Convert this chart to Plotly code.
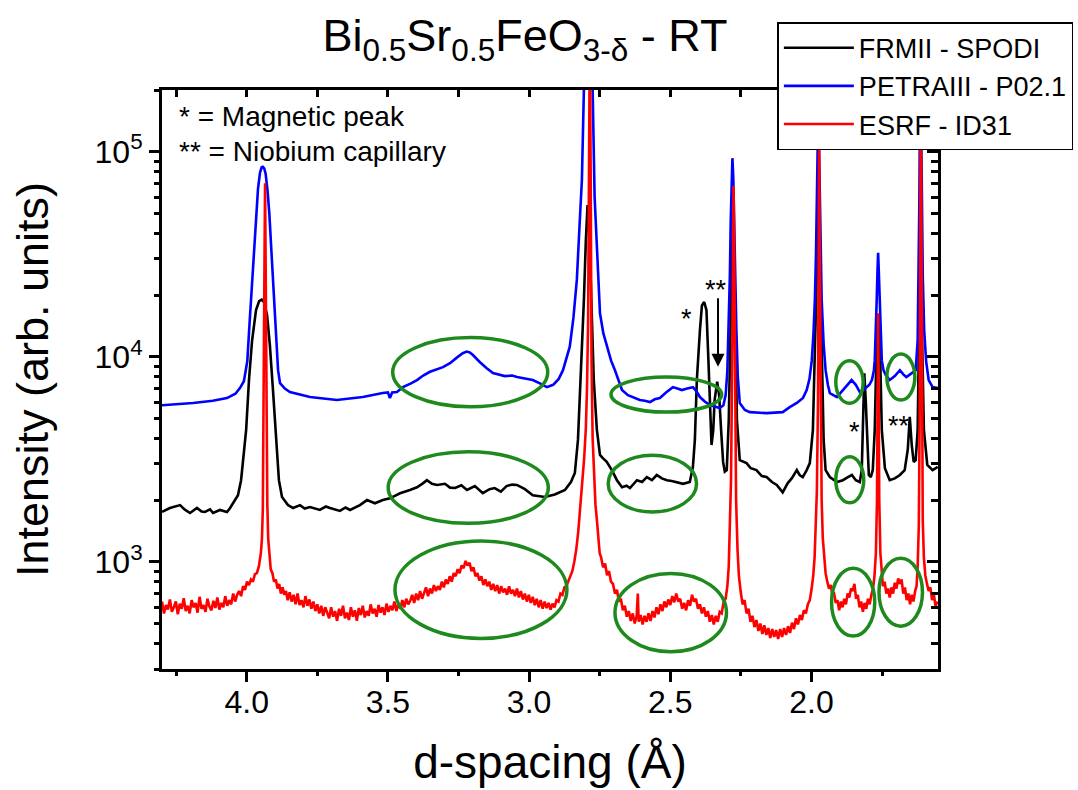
import math
import plotly.graph_objects as go

# ---------------- data (d-spacing in Å, intensity in arb. units) ----------------
petra_points = [
    (4.300, 5800), (4.250, 5850), (4.190, 5950), (4.120, 6100), (4.070, 6290), (4.040, 6600),
    (4.024, 7030), (4.010, 7600), (3.998, 9500), (3.990, 14500), (3.981, 23700), (3.974, 35000),
    (3.967, 50000), (3.960, 66000), (3.953, 79000), (3.947, 84000), (3.943, 84500), (3.938, 83000),
    (3.933, 78000), (3.926, 64000), (3.920, 50000), (3.914, 35000), (3.908, 23700), (3.901, 15500),
    (3.894, 11200), (3.889, 8600), (3.882, 7440), (3.865, 7000), (3.847, 6730), (3.776, 6360),
    (3.681, 6150), (3.589, 6360), (3.518, 6650), (3.500, 6700), (3.493, 6290), (3.485, 6700),
    (3.468, 6730), (3.447, 7110), (3.420, 7400), (3.397, 7700), (3.375, 8100), (3.351, 8450),
    (3.305, 8900), (3.280, 9300), (3.256, 9900), (3.235, 10400), (3.221, 10600), (3.210, 10500),
    (3.199, 10200), (3.174, 9400), (3.150, 8800), (3.128, 8320), (3.086, 8050), (3.060, 8100),
    (3.043, 7960), (3.010, 7800), (2.987, 7700), (2.960, 7400), (2.937, 7110), (2.915, 7300),
    (2.895, 7800), (2.880, 8600), (2.868, 9800), (2.856, 11200), (2.843, 15500), (2.831, 23700),
    (2.822, 42000), (2.813, 73000), (2.806, 200000), (2.798, 450000), (2.790, 600000),
    (2.782, 450000), (2.775, 200000), (2.768, 60000), (2.760, 34000), (2.749, 16300),
    (2.737, 13000), (2.725, 11200), (2.710, 9600), (2.696, 8600), (2.683, 7600), (2.671, 6880),
    (2.650, 6500), (2.633, 6360), (2.608, 6150), (2.590, 6100), (2.572, 6010), (2.555, 6200),
    (2.537, 6290), (2.515, 6700), (2.491, 7110), (2.475, 7000), (2.459, 6880), (2.440, 7000),
    (2.420, 7110), (2.408, 6800), (2.395, 6360), (2.378, 6050), (2.360, 5810), (2.340, 5700),
    (2.325, 5620), (2.312, 5800), (2.304, 6500), (2.298, 8500), (2.293, 13500), (2.289, 25000),
    (2.286, 46000), (2.283, 75000), (2.280, 93000), (2.277, 75000), (2.273, 46000),
    (2.270, 25000), (2.266, 13500), (2.261, 8000), (2.254, 5950), (2.236, 5500), (2.218, 5370),
    (2.183, 5310), (2.158, 5310), (2.130, 5340), (2.102, 5370), (2.077, 5680), (2.052, 5950),
    (2.030, 6300), (2.017, 6880), (2.007, 7800), (1.999, 9600), (1.993, 13000), (1.988, 19000),
    (1.984, 32000), (1.981, 58000), (1.978, 120000), (1.976, 160000), (1.974, 120000),
    (1.971, 58000), (1.967, 32000), (1.964, 19000), (1.957, 11500), (1.950, 8600), (1.942, 7300),
    (1.935, 6650), (1.910, 6360), (1.889, 6880), (1.870, 7400), (1.858, 7700), (1.843, 7300),
    (1.829, 6730), (1.815, 6900), (1.805, 7110), (1.795, 7300), (1.786, 7700), (1.779, 8600),
    (1.776, 9600), (1.772, 13000), (1.769, 19000), (1.766, 27000), (1.764, 32100),
    (1.762, 27000), (1.758, 19000), (1.755, 13000), (1.751, 9600), (1.745, 8600), (1.737, 8150),
    (1.723, 7700), (1.705, 8050), (1.687, 8600), (1.675, 8200), (1.664, 7960), (1.645, 8320),
    (1.631, 8600), (1.624, 12000), (1.620, 30000), (1.618, 58000), (1.616, 150000),
    (1.614, 300000), (1.612, 150000), (1.609, 58000), (1.606, 25000), (1.601, 13500),
    (1.594, 9500), (1.585, 7700), (1.571, 7110), (1.553, 7030),
]

frm_points = [
    (4.300, 1750), (4.272, 1830), (4.236, 1890), (4.220, 1800), (4.201, 1730), (4.176, 1830),
    (4.160, 1760), (4.148, 1750), (4.130, 1800), (4.119, 1730), (4.095, 1790), (4.070, 1750),
    (4.060, 1820), (4.049, 1930), (4.031, 2110), (4.020, 2500), (4.013, 3030), (4.002, 4400),
    (3.992, 7700), (3.981, 12000), (3.967, 16900), (3.956, 18700), (3.947, 19000),
    (3.939, 18500), (3.928, 16000), (3.918, 11400), (3.907, 6880), (3.896, 3930), (3.886, 2500),
    (3.875, 2070), (3.854, 1890), (3.836, 1830), (3.811, 1890), (3.795, 1820), (3.776, 1850),
    (3.741, 1790), (3.720, 1860), (3.705, 1830), (3.670, 1770), (3.650, 1840), (3.634, 1790),
    (3.599, 1890), (3.574, 2000), (3.546, 1930), (3.518, 2000), (3.493, 2040), (3.457, 2160),
    (3.422, 2240), (3.397, 2310), (3.375, 2420), (3.362, 2500), (3.344, 2400), (3.326, 2370),
    (3.298, 2400), (3.280, 2300), (3.262, 2290), (3.240, 2360), (3.220, 2240), (3.192, 2340),
    (3.164, 2160), (3.140, 2260), (3.122, 2290), (3.100, 2200), (3.080, 2340), (3.060, 2380),
    (3.043, 2370), (3.015, 2260), (2.987, 2110), (2.944, 2070), (2.909, 2130), (2.873, 2240),
    (2.852, 2450), (2.838, 2710), (2.827, 3930), (2.817, 7700), (2.806, 18900), (2.799, 37000),
    (2.793, 55000), (2.786, 37000), (2.779, 18900), (2.771, 7700), (2.760, 4400), (2.749, 3320),
    (2.739, 3200), (2.725, 3070), (2.707, 2800), (2.689, 2500), (2.671, 2310), (2.655, 2350),
    (2.643, 2290), (2.618, 2500), (2.600, 2450), (2.583, 2590), (2.565, 2500), (2.548, 2650),
    (2.530, 2550), (2.512, 2500), (2.495, 2480), (2.477, 2450), (2.455, 2400), (2.431, 2450),
    (2.420, 2900), (2.413, 3930), (2.406, 7700), (2.395, 13500), (2.388, 17800), (2.380, 18500),
    (2.372, 16900), (2.365, 9600), (2.360, 5500), (2.354, 3710), (2.348, 4370), (2.343, 6150),
    (2.334, 7550), (2.327, 6500), (2.320, 4370), (2.313, 3070), (2.307, 2750), (2.300, 2800),
    (2.293, 4900), (2.286, 18900), (2.279, 45000), (2.271, 18900), (2.264, 4900), (2.254, 3130),
    (2.230, 3030), (2.215, 2860), (2.195, 2800), (2.176, 2620), (2.159, 2590), (2.140, 2450),
    (2.123, 2370), (2.102, 2180), (2.084, 2420), (2.070, 2550), (2.052, 2800), (2.042, 2650),
    (2.031, 2590), (2.017, 2800), (2.006, 3030), (1.995, 4400), (1.988, 10700), (1.981, 33000),
    (1.976, 50000), (1.971, 33000), (1.964, 10700), (1.957, 3930), (1.950, 2800), (1.935, 2590),
    (1.910, 2450), (1.889, 2500), (1.871, 2590), (1.857, 2650), (1.843, 2500), (1.829, 2450),
    (1.822, 2800), (1.818, 4900), (1.813, 8300), (1.808, 6150), (1.802, 3530), (1.797, 2650),
    (1.790, 2590), (1.783, 2800), (1.776, 4400), (1.769, 12000), (1.764, 16000), (1.758, 12000),
    (1.751, 4400), (1.740, 2860), (1.723, 2500), (1.705, 2550), (1.687, 2650), (1.670, 2800),
    (1.659, 3530), (1.652, 5090), (1.645, 3710), (1.638, 3070), (1.631, 3130), (1.624, 4400),
    (1.619, 13500), (1.614, 50000), (1.609, 13500), (1.602, 4400), (1.590, 2970), (1.571, 2800),
    (1.553, 2900),
]

esrf_points = [
    (4.300, 640), (4.293, 560), (4.286, 615), (4.279, 585), (4.272, 655), (4.265, 570),
    (4.258, 600), (4.251, 640), (4.244, 555), (4.237, 625), (4.230, 590), (4.223, 665),
    (4.216, 575), (4.209, 610), (4.202, 560), (4.195, 650), (4.188, 600), (4.181, 630),
    (4.174, 565), (4.167, 675), (4.160, 590), (4.153, 615), (4.146, 570), (4.139, 660),
    (4.132, 605), (4.125, 580), (4.118, 645), (4.111, 595), (4.104, 670), (4.097, 585),
    (4.090, 630), (4.083, 600), (4.076, 680), (4.069, 610), (4.062, 650), (4.055, 620),
    (4.048, 700), (4.041, 640), (4.034, 690), (4.027, 720), (4.020, 680), (4.013, 760),
    (4.006, 730), (3.999, 800), (3.992, 770), (3.985, 820), (3.978, 800), (3.971, 870),
    (3.964, 880), (3.957, 950), (3.950, 1100), (3.946, 1300), (3.943, 1800), (3.940, 5000),
    (3.937, 30000), (3.935, 70200), (3.933, 30000), (3.930, 5000), (3.927, 1900), (3.924, 1300),
    (3.920, 1050), (3.915, 920), (3.909, 880), (3.903, 800), (3.897, 820), (3.891, 740),
    (3.885, 780), (3.879, 700), (3.873, 750), (3.867, 690), (3.861, 720),
    (3.855, 650), (3.848, 710), (3.841, 640), (3.834, 690), (3.827, 620), (3.820, 700),
    (3.813, 615), (3.806, 650), (3.799, 600), (3.792, 680), (3.785, 610), (3.778, 655),
    (3.771, 590), (3.764, 640), (3.757, 575), (3.750, 620), (3.743, 560), (3.736, 610),
    (3.729, 545), (3.722, 600), (3.715, 560), (3.708, 530), (3.701, 600), (3.694, 540),
    (3.687, 575), (3.680, 515), (3.673, 590), (3.666, 545), (3.659, 610), (3.652, 530),
    (3.645, 565), (3.638, 520), (3.631, 600), (3.624, 540), (3.617, 580), (3.610, 515),
    (3.603, 595), (3.596, 550), (3.589, 610), (3.582, 535), (3.575, 575), (3.568, 545),
    (3.561, 620), (3.554, 560), (3.547, 590), (3.540, 540), (3.533, 615), (3.526, 565),
    (3.519, 600), (3.512, 550), (3.505, 625),
    (3.498, 570), (3.491, 610), (3.484, 580), (3.477, 640), (3.470, 575), (3.463, 625),
    (3.456, 590), (3.449, 650), (3.442, 600), (3.435, 660), (3.428, 620), (3.421, 645),
    (3.414, 690), (3.407, 630), (3.400, 700), (3.393, 650), (3.386, 720), (3.379, 660),
    (3.372, 700), (3.365, 750), (3.358, 680), (3.351, 740), (3.344, 700), (3.337, 770),
    (3.330, 720), (3.323, 760), (3.316, 730), (3.309, 800), (3.302, 750), (3.295, 820),
    (3.288, 780), (3.281, 850), (3.274, 800), (3.267, 880), (3.260, 850), (3.253, 920),
    (3.246, 880), (3.239, 960), (3.232, 930), (3.225, 1010), (3.218, 960), (3.211, 990),
    (3.204, 900), (3.197, 940), (3.190, 850), (3.183, 880), (3.176, 810), (3.169, 850),
    (3.162, 770), (3.155, 820), (3.148, 760), (3.141, 800), (3.134, 730), (3.127, 780),
    (3.120, 720), (3.113, 770), (3.106, 700), (3.099, 760), (3.092, 710), (3.085, 740),
    (3.078, 690), (3.071, 760), (3.064, 700), (3.057, 730), (3.050, 680), (3.043, 740),
    (3.036, 670), (3.029, 720), (3.022, 655), (3.015, 700), (3.008, 640), (3.001, 690),
    (2.994, 630), (2.987, 675), (2.980, 615), (2.973, 660), (2.966, 600), (2.959, 650),
    (2.952, 590), (2.945, 640), (2.938, 595), (2.931, 630), (2.924, 585), (2.917, 625),
    (2.910, 600),
    (2.903, 650), (2.896, 640), (2.889, 700), (2.882, 690), (2.875, 750), (2.868, 760),
    (2.861, 800), (2.854, 850), (2.847, 900), (2.840, 1000), (2.833, 1150), (2.826, 1400),
    (2.819, 1800), (2.812, 2300), (2.805, 3200), (2.799, 4500), (2.795, 7000), (2.791, 15000),
    (2.788, 80000), (2.785, 400000), (2.782, 80000), (2.779, 10000), (2.775, 4000),
    (2.770, 2600), (2.765, 1900), (2.760, 1600), (2.755, 1300), (2.750, 1100),
    (2.745, 1050), (2.738, 940), (2.731, 980), (2.724, 860), (2.717, 900), (2.710, 800),
    (2.703, 780), (2.696, 700), (2.689, 730), (2.682, 640), (2.675, 660), (2.668, 580),
    (2.661, 610), (2.654, 540), (2.647, 575), (2.640, 515), (2.633, 560), (2.626, 500),
    (2.619, 545), (2.615, 700), (2.612, 510), (2.605, 550), (2.598, 495), (2.591, 545),
    (2.584, 510), (2.577, 560), (2.570, 515), (2.563, 575), (2.556, 535), (2.549, 600),
    (2.542, 555), (2.535, 620), (2.528, 575), (2.521, 640), (2.514, 600), (2.507, 655),
    (2.500, 615), (2.493, 680), (2.486, 635), (2.479, 700), (2.472, 640), (2.465, 660),
    (2.458, 590), (2.451, 630), (2.444, 580), (2.437, 650), (2.430, 610), (2.423, 690),
    (2.416, 640), (2.409, 660), (2.402, 590), (2.395, 620), (2.388, 560), (2.381, 600),
    (2.374, 540), (2.367, 575), (2.360, 510), (2.353, 550), (2.346, 495), (2.339, 545),
    (2.332, 510), (2.325, 570), (2.318, 560), (2.311, 640), (2.304, 660),
    (2.298, 760), (2.293, 950), (2.289, 1400), (2.285, 2500), (2.281, 9000), (2.278, 40000),
    (2.276, 68000), (2.274, 40000), (2.271, 8000), (2.267, 2000), (2.262, 1150), (2.257, 850),
    (2.251, 720), (2.244, 620), (2.237, 650), (2.230, 560), (2.223, 590), (2.216, 510),
    (2.209, 545), (2.202, 480), (2.195, 520), (2.188, 460), (2.181, 500), (2.174, 445),
    (2.167, 490), (2.160, 440), (2.153, 475), (2.146, 425), (2.139, 470), (2.132, 430),
    (2.125, 465), (2.118, 420), (2.111, 470), (2.104, 430), (2.097, 475), (2.090, 440),
    (2.083, 485), (2.076, 450), (2.069, 505), (2.062, 470), (2.055, 530), (2.048, 495),
    (2.041, 550), (2.034, 520), (2.027, 580), (2.020, 560), (2.013, 620),
    (2.006, 650), (2.000, 730), (1.994, 850), (1.989, 1050), (1.985, 1400), (1.981, 2200),
    (1.977, 6000), (1.975, 40000), (1.973, 106000), (1.971, 40000), (1.968, 6000),
    (1.964, 2000), (1.960, 1300), (1.955, 1000), (1.950, 880),
    (1.944, 800), (1.938, 740), (1.932, 770), (1.926, 690), (1.920, 700), (1.914, 630),
    (1.908, 650), (1.902, 580), (1.896, 640), (1.890, 600), (1.884, 660), (1.878, 620),
    (1.872, 700), (1.866, 670), (1.860, 740), (1.854, 720), (1.848, 780), (1.842, 660),
    (1.836, 690), (1.830, 600), (1.824, 640), (1.818, 570), (1.812, 630), (1.806, 590),
    (1.800, 660), (1.794, 620), (1.788, 690), (1.782, 740),
    (1.777, 850), (1.772, 1100), (1.768, 2000), (1.766, 6000), (1.764, 16300), (1.762, 6000),
    (1.760, 2000), (1.756, 1100), (1.752, 880),
    (1.747, 760), (1.741, 800), (1.735, 700), (1.729, 740), (1.723, 670), (1.717, 750),
    (1.711, 700), (1.705, 790), (1.699, 740), (1.693, 830), (1.687, 780), (1.681, 820),
    (1.675, 700), (1.669, 750), (1.663, 650), (1.657, 700), (1.651, 620), (1.645, 690),
    (1.639, 640), (1.633, 720), (1.628, 760),
    (1.624, 950), (1.620, 1500), (1.617, 5000), (1.615, 60000), (1.613, 300000),
    (1.611, 60000), (1.609, 5000), (1.606, 1600), (1.602, 1050), (1.597, 860),
    (1.591, 780), (1.585, 720), (1.579, 750), (1.573, 650), (1.567, 700), (1.561, 610),
    (1.553, 640),
]

series_names = ["FRMII - SPODI", "PETRAIII - P02.1", "ESRF - ID31"]

# highlighted regions (green ellipses): d from, d to, intensity low, intensity high
highlight_regions = [
    (3.483, 2.934, 5700, 12400),
    (3.499, 2.932, 1540, 3440),
    (3.475, 2.866, 423, 1262),
    (2.710, 2.318, 5370, 7960),
    (2.720, 2.407, 1750, 3310),
    (2.696, 2.301, 364, 878),
    (1.914, 1.817, 5930, 9550),
    (1.733, 1.634, 6150, 10300),
    (1.914, 1.815, 1940, 3250),
    (1.929, 1.776, 434, 929),
    (1.761, 1.607, 485, 1040),
]

# peak markers: text, d, intensity
peak_marks = [
    ("*", 2.443, 15300),
    ("**", 2.337, 21100),
    ("*", 1.847, 4300),
    ("**", 1.691, 4620),
]
arrow_mark = (2.331, 19600, 8930)  # d, tail intensity, head intensity

x_range = [4.30, 1.552]
y_range = [300, 2.0e5]

FONT = "Arial, Liberation Sans, sans-serif"

fig = go.Figure()


def unzip(points):
    return [p[0] for p in points], [p[1] for p in points]


d_f, i_f = unzip(frm_points)
d_p, i_p = unzip(petra_points)
d_e, i_e = unzip(esrf_points)

fig.add_trace(go.Scatter(x=d_f, y=i_f, mode="lines", name=series_names[0],
                         line=dict(color="#000000", width=2.6)))
fig.add_trace(go.Scatter(x=d_p, y=i_p, mode="lines", name=series_names[1],
                         line=dict(color="#0000ff", width=2.6)))
fig.add_trace(go.Scatter(x=d_e, y=i_e, mode="lines", name=series_names[2],
                         line=dict(color="#ff0000", width=2.6)))

# invisible helper traces so that the mirrored frame axes (top, right, bottom ticks) get drawn
for xa, ya in (("x2", "y2"), ("x3", "y")):
    fig.add_trace(go.Scatter(x=x_range, y=y_range, xaxis=xa, yaxis=ya, mode="markers",
                             marker=dict(opacity=0), showlegend=False, hoverinfo="skip"))

for (xa, xb, ya, yb) in highlight_regions:
    fig.add_shape(type="circle", xref="x", yref="y", x0=xa, x1=xb, y0=ya, y1=yb,
                  line=dict(color="#1e8a1e", width=3.5), fillcolor="rgba(0,0,0,0)",
                  layer="above")

for (txt, dx, iy) in peak_marks:
    fig.add_annotation(x=dx, y=math.log10(iy), xref="x", yref="y", text=txt,
                       showarrow=False, font=dict(family=FONT, size=27, color="black"))

fig.add_annotation(x=arrow_mark[0], y=math.log10(arrow_mark[2]), xref="x", yref="y",
                   ax=arrow_mark[0], ay=math.log10(arrow_mark[1]), axref="x", ayref="y",
                   text="", showarrow=True, arrowhead=2, arrowsize=1.3, arrowwidth=2,
                   arrowcolor="black", standoff=0, startstandoff=0)

fig.add_annotation(x=0.019, y=0.955, xref="paper", yref="paper", text="* = Magnetic peak",
                   showarrow=False, xanchor="left", yanchor="middle",
                   font=dict(family=FONT, size=28, color="black"))
fig.add_annotation(x=0.019, y=0.893, xref="paper", yref="paper", text="** = Niobium capillary",
                   showarrow=False, xanchor="left", yanchor="middle",
                   font=dict(family=FONT, size=28, color="black"))

minor_y = [m * 10 ** e for e in range(2, 6) for m in range(2, 10)]
major_y = [1e3, 1e4, 1e5]
major_y_text = ["10<sup>3</sup>", "10<sup>4</sup>", "10<sup>5</sup>"]

ly = [math.log10(y_range[0]), math.log10(y_range[1])]

fig.update_layout(
    width=1078, height=790,
    margin=dict(l=162, r=140, t=90, b=121, autoexpand=False),
    paper_bgcolor="white", plot_bgcolor="white",
    font=dict(family=FONT, color="black"),
    title=dict(text="Bi<sub>0.5</sub>Sr<sub>0.5</sub>FeO<sub>3-δ</sub> - RT",
               x=0.487, xanchor="center", xref="container",
               y=0.955, yanchor="middle", yref="container",
               font=dict(family=FONT, size=45, color="black")),
    showlegend=True,
    legend=dict(x=0.793, y=1.117, xanchor="left", yanchor="top",
                bgcolor="white", bordercolor="black", borderwidth=1.5,
                font=dict(family=FONT, size=27, color="black"),
                itemwidth=70, tracegroupgap=0),
    # main bottom axis: carries the tick labels (short invisible ticks keep labels close)
    xaxis=dict(range=x_range, showgrid=False, zeroline=False, showline=True,
               linecolor="black", linewidth=3, ticks="outside", ticklen=3, tickwidth=1,
               tickcolor="rgba(0,0,0,0)", dtick=0.5, tick0=0, tickformat=".1f",
               tickfont=dict(family=FONT, size=32, color="black"),
               title=dict(text="d-spacing (Å)", font=dict(family=FONT, size=46, color="black"),
                          standoff=27)),
    # overlay bottom axis: draws the tick marks
    xaxis3=dict(range=x_range, overlaying="x", side="bottom", anchor="y", showgrid=False,
                zeroline=False, showline=False, ticks="outside", ticklen=12, tickwidth=3,
                tickcolor="black", dtick=0.5, tick0=0, showticklabels=False,
                minor=dict(ticks="outside", ticklen=6, tickwidth=3, dtick=0.25, tick0=0,
                           tickcolor="black", showgrid=False)),
    yaxis=dict(type="log", range=ly, showgrid=False, zeroline=False, showline=True,
               linecolor="black", linewidth=3, ticks="outside", ticklen=10, tickwidth=3,
               tickcolor="black", tickmode="array", tickvals=major_y, ticktext=major_y_text,
               tickfont=dict(family=FONT, size=32, color="black"),
               minor=dict(ticks="outside", ticklen=5, tickwidth=3, tickmode="array",
                          tickvals=minor_y, tickcolor="black", showgrid=False),
               title=dict(text="Intensity (arb. units)",
                          font=dict(family=FONT, size=45, color="black"), standoff=32)),
    xaxis2=dict(range=x_range, overlaying="x", side="top", anchor="y2", showgrid=False,
                zeroline=False, showline=True, linecolor="black", linewidth=3,
                ticks="inside", ticklen=7, tickwidth=3, tickcolor="black",
                dtick=0.25, tick0=0, showticklabels=False),
    yaxis2=dict(type="log", range=ly, overlaying="y", side="right", anchor="x2",
                showgrid=False, zeroline=False, showline=True, linecolor="black",
                linewidth=3, ticks="inside", ticklen=11, tickwidth=3, tickcolor="black",
                tickmode="array", tickvals=major_y, showticklabels=False,
                minor=dict(ticks="inside", ticklen=7, tickwidth=3, tickmode="array",
                           tickvals=minor_y, tickcolor="black", showgrid=False)),
)

fig.write_html("out.html")
